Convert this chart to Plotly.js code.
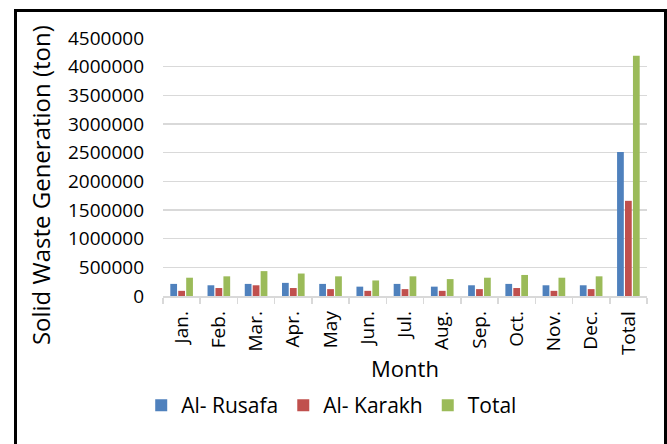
<!DOCTYPE html>
<html>
<head>
<meta charset="utf-8">
<script src="https://cdn.plot.ly/plotly-3.0.1.min.js"></script>
<style>
html,body{margin:0;padding:0;background:#fff;}
#wrap{position:relative;width:667px;height:444px;overflow:hidden;}
#frame{position:absolute;left:14px;top:9px;width:647px;height:500px;border:3px solid #000;border-bottom:none;pointer-events:none;}
</style>
</head>
<body>
<div id="wrap"><div id="chart" style="width:667px;height:444px;"></div><div id="frame"></div></div>
<script>
const months = ["Jan.","Feb.","Mar.","Apr.","May","Jun.","Jul.","Aug.","Sep.","Oct.","Nov.","Dec.","Total"];
const rusafa = [211000,187000,211000,229000,211000,163000,211000,163000,187000,211000,187000,187000,2510000];
const karakh = [90000,139000,187000,139000,120000,90000,120000,90000,120000,139000,90000,120000,1660000];
const total  = [319000,343000,434000,392000,343000,271000,343000,295000,319000,367000,319000,343000,4190000];
const yTicks = [0,500000,1000000,1500000,2000000,2500000,3000000,3500000,4000000,4500000];
const yTitle = "Solid Waste Generation (ton)";

const font = "'Open Sans', sans-serif";
const traces = [
  {type:"bar", name:"Al- Rusafa", x:months, y:rusafa, marker:{color:"#4F81BD"}},
  {type:"bar", name:"Al- Karakh", x:months, y:karakh, marker:{color:"#C0504D"}},
  {type:"bar", name:"Total", x:months, y:total, marker:{color:"#9BBB59"}}
];
const layout = {
  width:667, height:444,
  margin:{l:163, r:20, t:38, b:148, autoexpand:false},
  paper_bgcolor:"#fff", plot_bgcolor:"#fff",
  font:{family:font, color:"#000", size:19},
  barmode:"group", bargap:0.36, bargroupgap:0.15,
  showlegend:true,
  legend:{orientation:"h", x:-0.045, xanchor:"left", y:-0.345, yanchor:"top", font:{size:21}, itemwidth:30, tracegroupgap:0},
  xaxis:{
    type:"category", tickangle:-90, tickson:"boundaries",
    ticks:"outside", ticklen:6, tickcolor:"#d9d9d9", tickwidth:1.5,
    showline:true, linecolor:"#d9d9d9", linewidth:1.5,
    showgrid:false, tickfont:{size:19}, ticklabelstandoff:6,
    title:{text:"Month", font:{size:22}, standoff:7}
  },
  yaxis:{
    range:[0,4500000], tickvals:yTicks, ticktext:yTicks.map(String),
    showgrid:true, gridcolor:"#d9d9d9", gridwidth:1.5,
    zeroline:false, showline:false, ticks:"", tickfont:{size:19},
    ticklabelstandoff:18
  },
  annotations:[{
    text:yTitle, textangle:-90, showarrow:false,
    xref:"paper", yref:"paper", x:-0.254, y:0.43, xanchor:"center", yanchor:"middle",
    font:{size:24}
  }]
};
Plotly.newPlot("chart", traces, layout, {displayModeBar:false, staticPlot:true});
</script>
</body>
</html>
